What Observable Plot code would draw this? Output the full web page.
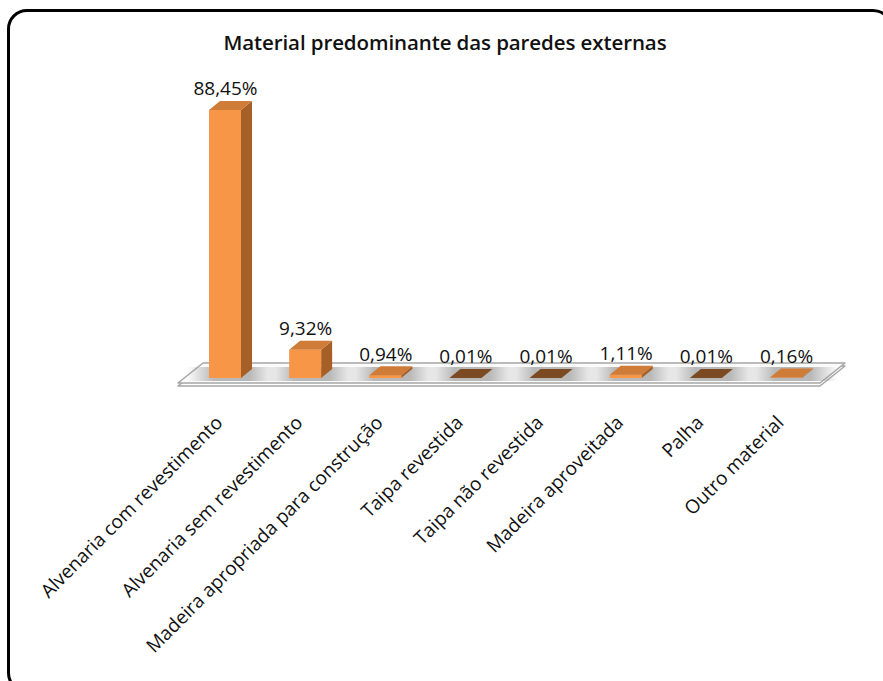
<!DOCTYPE html>
<html>
<head>
<meta charset="utf-8">
<script src="https://cdn.jsdelivr.net/npm/d3@7"></script>
<script src="https://cdn.jsdelivr.net/npm/@observablehq/plot@0.6"></script>
<style>
  html, body { margin: 0; padding: 0; background: #fff; overflow: hidden; }
  body { width: 883px; height: 681px; position: relative; font-family: "Open Sans", sans-serif; }
  #frame { position: absolute; left: 7px; top: 9px; width: 886px; height: 684px; box-sizing: border-box;
           border: 3.5px solid #000; border-radius: 20px; }
  #title { position: absolute; top: 28px; left: 0; width: 890px; text-align: center; font-size: 20.5px;
           font-weight: 600; color: #111; font-family: "Open Sans", sans-serif; letter-spacing: -0.1px; }
  #chart { position: absolute; left: 0; top: 0; }
</style>
</head>
<body>
<svg width="0" height="0" style="position:absolute">
  <defs>
    <linearGradient id="shadowGrad" x1="0" x2="1" y1="0" y2="0">
      <stop offset="0" stop-color="#8c8c8c" stop-opacity="0"/>
      <stop offset="0.3" stop-color="#8c8c8c" stop-opacity="0.6"/>
      <stop offset="0.7" stop-color="#8c8c8c" stop-opacity="0.6"/>
      <stop offset="1" stop-color="#8c8c8c" stop-opacity="0"/>
    </linearGradient>
  </defs>
</svg>
<div id="frame"></div>
<div id="chart"></div>
<div id="title">Material predominante das paredes externas</div>
<script>
const categories = [
  "Alvenaria com revestimento",
  "Alvenaria sem revestimento",
  "Madeira apropriada para construção",
  "Taipa revestida",
  "Taipa não revestida",
  "Madeira aproveitada",
  "Palha",
  "Outro material"
];
const values = [88.45, 9.32, 0.94, 0.01, 0.01, 1.11, 0.01, 0.16];
const valueLabels = ["88,45%", "9,32%", "0,94%", "0,01%", "0,01%", "1,11%", "0,01%", "0,16%"];

// layout (pixels)
const W = 883, H = 681;
const xRange = [225, 786], yRange = [378, 75], yMax = 100;
const kx = (xRange[1] - xRange[0]) / (categories.length - 1);
const ky = (yRange[0] - yRange[1]) / yMax;
const HALF = 16 / kx;          // half bar width
const DX = 11 / kx, DY = 9 / ky; // bar depth
const FDX = 25 / kx, FDY = 20 / ky; // floor depth
const fLeft = -47 / kx, fRight = (categories.length - 1) + 34 / kx, fFront = -5 / ky;

const bars = categories.map((c, i) => ({i, c, v: values[i], label: valueLabels[i]}));

const topFaces = [], sideFaces = [], shadows = [];
for (const b of bars) {
  const xl = b.i - HALF, xr = b.i + HALF, v = b.v, dark = v < 0.05;
  topFaces.push({k: b.i, x: xl, y1: v, y2: v, dark});
  topFaces.push({k: b.i, x: xl + DX, y1: v, y2: v + DY, dark});
  topFaces.push({k: b.i, x: xr, y1: v, y2: v + DY, dark});
  topFaces.push({k: b.i, x: xr + DX, y1: v + DY, y2: v + DY, dark});
  sideFaces.push({k: b.i, x: xr, y1: 0, y2: v});
  sideFaces.push({k: b.i, x: xr + DX, y1: DY, y2: v + DY});
  // soft shadow on the floor around each bar
  shadows.push({k: b.i, x1: xl - 0.27, x2: xr + DX + 0.3, y1: fFront + 2 / ky, y2: fFront + 16 / ky});
}
const floorPts = [
  {x: fLeft, y1: fFront, y2: fFront},
  {x: fLeft + FDX, y1: fFront, y2: fFront + FDY},
  {x: fRight, y1: fFront, y2: fFront + FDY},
  {x: fRight + FDX, y1: fFront + FDY, y2: fFront + FDY}
];

const chart = Plot.plot({
  width: W, height: H,
  marginTop: 0, marginRight: 0, marginBottom: 0, marginLeft: 0,
  x: {domain: [0, categories.length - 1], range: xRange, axis: null},
  y: {domain: [0, yMax], range: yRange, axis: null},
  style: {fontFamily: "'Open Sans', sans-serif", color: "#000", background: "transparent"},
  marks: [
    // floor slab (thickness) and top
    Plot.areaY(floorPts, {x: "x", y1: "y1", y2: "y2", fill: "#fff", stroke: "#a6a6a6", strokeWidth: 1.5, dy: 3}),
    Plot.areaY(floorPts, {x: "x", y1: "y1", y2: "y2", fill: "#fbfbfb", stroke: "#a6a6a6", strokeWidth: 1.5}),
    Plot.rect(shadows, {x1: "x1", x2: "x2", y1: "y1", y2: "y2", fill: "url(#shadowGrad)"}),
    // bars
    Plot.areaY(sideFaces, {x: "x", y1: "y1", y2: "y2", z: "k", fill: "#a65f27"}),
    Plot.rect(bars, {x1: d => d.i - HALF, x2: d => d.i + HALF, y1: 0, y2: "v", fill: "#f79646"}),
    Plot.areaY(topFaces, {x: "x", y1: "y1", y2: "y2", z: "k", fill: d => d.dark ? "#7b4a22" : "#cf7c38"}),
    // value labels
    Plot.text(bars, {x: "i", y: "v", text: "label", lineAnchor: "bottom", dy: -15, fontSize: 19, fill: "#111"}),
    // category labels
    Plot.text(bars, {x: "i", y: 0, text: "c", rotate: -45, textAnchor: "end", dx: -6, dy: 41, fontSize: 19, fill: "#111"})
  ]
});

document.getElementById("chart").appendChild(chart);
</script>
</body>
</html>
